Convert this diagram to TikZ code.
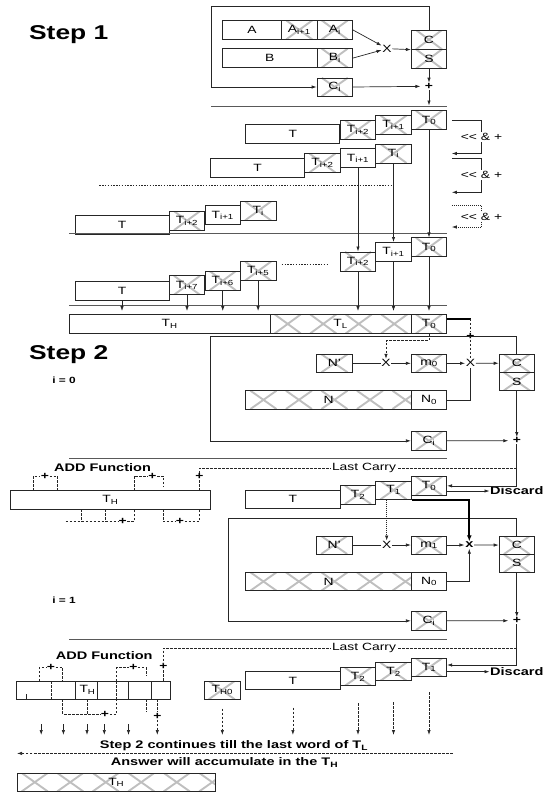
\documentclass[tikz,border=0pt]{standalone}
\usepackage{fontspec}
\setmainfont{Liberation Sans}[FakeStretch=1.32]
\usetikzlibrary{arrows.meta}

\newcommand\celltxt{\fontsize{10.5}{12}\selectfont}
\newcommand\boldtxt{\fontsize{11}{13}\selectfont\bfseries}

\tikzset{
  cell/.style={draw=black!85, line width=0.7pt, inner sep=0pt, minimum width=35.5, minimum height=19, font=\celltxt},
  hatchln/.style={black!25, line width=1.9pt},
  hatch/.style={path picture={
    \foreach \k in {0,...,6}{
      \draw[hatchln] ([xshift={\k*35.5pt+4.75pt}]path picture bounding box.south west) -- ([xshift={\k*35.5pt+30.75pt}]path picture bounding box.north west);
      \draw[hatchln] ([xshift={\k*35.5pt+4.75pt}]path picture bounding box.north west) -- ([xshift={\k*35.5pt+30.75pt}]path picture bounding box.south west);
    }}},
  link/.style={black!85, line width=0.7pt},
  arr/.style={link, -{Latex[length=5pt,width=3.4pt]}},
  carry/.style={link, dash pattern=on 2.5pt off 1.5pt},
  carryarr/.style={carry, -{Latex[length=5pt,width=3.4pt]}},
  dotline/.style={black!85, line width=1pt, dash pattern=on 1.4pt off 1.4pt},
  dotarr/.style={link, dash pattern=on 1pt off 1pt, -{Latex[length=5pt,width=3.4pt]}},
  heavy/.style={black, line width=2.2pt},
  separator/.style={black!65, line width=0.9pt},
  op/.style={inner sep=0.6pt, font=\celltxt},
  plus/.style={inner sep=0.3pt, font=\celltxt\bfseries},
  boldlbl/.style={inner sep=0.5pt, font=\boldtxt},
  steplbl/.style={inner sep=0pt, font=\fontsize{20}{22}\selectfont\bfseries},
  idx/.style={inner sep=0pt, font=\fontsize{9}{10}\selectfont\bfseries},
  shiftlbl/.style={fill=white, inner sep=1pt, font=\celltxt},
  carrylbl/.style={fill=white, inner sep=1pt, font=\celltxt}
}

\begin{document}
\begin{tikzpicture}[x=1pt, y=-1pt]
\useasboundingbox (0,0) rectangle (552,796);

% step 1
\node[steplbl] (step1) at (68.75,35) {Step 1};
\node[cell, minimum width=59] (a) at (252,29.9) {A};
\node[cell, hatch] (a1) at (299.25,29.9) {A\textsubscript{i+1}};
\node[cell, hatch] (a0) at (334.75,29.9) {A\textsubscript{i}};
\node[cell, minimum width=94.5] (b) at (269.75,58.1) {B};
\node[cell, hatch] (b0) at (334.75,58.1) {B\textsubscript{i}};
\node[op] (mul) at (387,48.6) {X};
\node[cell, hatch, minimum height=19.3] (cc) at (429,39.65) {C};
\node[cell, hatch, minimum height=19.3] (ss) at (429,58.95) {S};
\node[cell, hatch, minimum height=18.3] (ci) at (334.75,87) {C\textsubscript{i}};
\node[plus] (add) at (429,86.3) {+};
\coordinate (loop1) at (211,6);
\coordinate (s1) at (429,105.5);
\draw[arr] (a0.east) -- (mul);
\draw[arr] (b0.east) -- (mul);
\draw[arr] (mul) -- (cc.south west);
\draw[arr] (cc.north) |- (loop1) |- (ci.west);
\draw[arr, shorten >=4pt] (ci.east) -- (add);
\draw[arr] (ss.south) -- (add);
\draw[arr] (add) -- (s1);
\draw[separator] (211,106.3) -- (446.5,106.3);

% shifted rows
\node[cell, minimum width=94] (r1t) at (292.8,134.3) {T};
\node[cell, hatch] (r1a) at (358,129.7) {T\textsubscript{i+2}};
\node[cell, hatch] (r1b) at (393.5,125) {T\textsubscript{i+1}};
\node[cell, hatch] (r1c) at (429,120.3) {T\textsubscript{0}};
\node[cell, minimum width=94] (r2t) at (257.6,168) {T};
\node[cell, hatch] (r2a) at (322.4,163) {T\textsubscript{i+2}};
\node[cell] (r2b) at (358,158.3) {T\textsubscript{i+1}};
\node[cell, hatch] (r2c) at (393.5,153.5) {T\textsubscript{i}};
\draw[dotline] (99.3,185.2) -- (393.5,185.2);
\node[cell, minimum width=94] (r3t) at (122,225.2) {T};
\node[cell, hatch] (r3a) at (187,220.65) {T\textsubscript{i+2}};
\node[cell] (r3b) at (222.75,215.3) {T\textsubscript{i+1}};
\node[cell, hatch] (r3c) at (258.1,210.9) {T\textsubscript{i}};

\foreach \i/\ya/\yb/\yl/\st in {1/120/153.5/137/arr, 2/158/192.3/175/arr, 3/205.6/227/216.5/dotarr}{
  \coordinate (br\i a) at (451.8,\ya);
  \coordinate (br\i b) at (451.8,\yb);
  \draw[\st] (br\i a) -| (481.7,\yb) -- (br\i b);
  \node[shiftlbl] (sh\i) at (481.5,\yl) {<{}< \& +};
}
\draw[separator] (69.4,233) -- (446.5,233);

\node[cell, hatch] (r4a) at (358,261.35) {T\textsubscript{i+2}};
\node[cell] (r4b) at (393.5,251.85) {T\textsubscript{i+1}};
\node[cell, hatch] (r4c) at (429,247.3) {T\textsubscript{0}};
\draw[arr] (r2b.south) -- (r4a.north);
\draw[arr] (r2c.south) -- (r4b.north);
\draw[arr] (r1c.south) -- (r4c.north);
\draw[dotline] (281.7,264.7) -- (327.5,264.7);
\node[cell, minimum width=94] (r5t) at (122,290.45) {T};
\node[cell, hatch] (r5a) at (187,285.3) {T\textsubscript{i+7}};
\node[cell, hatch] (r5b) at (222.75,280.7) {T\textsubscript{i+6}};
\node[cell, hatch] (r5c) at (258.1,271.05) {T\textsubscript{i+5}};
\draw[separator] (69.4,305.2) -- (446.5,305.2);

\node[cell, minimum width=200.6] (th) at (169.7,323.9) {T\textsubscript{H}};
\node[cell, hatch, minimum width=141.3] (tl) at (340.65,323.9) {T\textsubscript{L}};
\node[cell, hatch] (tz) at (429,323.9) {T\textsubscript{0}};
\foreach \n in {r5t,r5a,r5b,r5c,r4a,r4b,r4c}
  \draw[arr, shorten >=3pt] (\n.south) -- (\n.south |- th.north);

% step 2, i = 0
\node[steplbl] (step2) at (68.75,355) {Step 2};
\node[idx] (it0) at (64,380) {i = 0};
\node[plus] (pl0) at (470.5,336) {+};
\coordinate (k0) at (470.5,318.9);
\coordinate (lp0) at (210.7,336);
\coordinate (d0) at (386,340.7);
\node[cell, hatch, minimum height=18] (np0) at (334.5,363.3) {N'};
\node[op] (x01) at (386,363.3) {X};
\node[cell, hatch, minimum height=18] (m0) at (429,363.3) {m\textsubscript{0}};
\node[op] (x02) at (470.5,363.3) {X};
\node[cell, hatch, minimum height=18.2] (cc2) at (516.8,363.2) {C};
\node[cell, hatch, minimum height=18.2] (ss2) at (516.8,381.4) {S};
\node[cell, hatch, minimum width=166, minimum height=18.3] (n0) at (328.7,399.85) {N};
\node[cell, minimum height=18.3] (nz0) at (429,399.85) {N\textsubscript{0}};
\node[cell, hatch, minimum height=18.3] (ci2) at (429,440.85) {C\textsubscript{i}};
\node[plus] (pl1) at (516.8,440.7) {+};
\draw[heavy] ([yshift=5pt]tz.east) -- (k0);
\draw[carry] (k0) -- (pl0);
\draw[carry] (pl0) -- (x02);
\draw[arr] (cc2.north) |- (lp0) |- (ci2.west);
\draw[carryarr] (tz.south) |- (d0) -- (x01);
\draw[link] (np0) -- (x01);
\draw[arr] (x01) -- (m0);
\draw[arr] (m0) -- (x02);
\draw[arr] (x02) -- (cc2);
\draw[link] (nz0.east) -| (x02);
\draw[arr] (ss2.south) -- (pl1);
\draw[arr, shorten >=4pt] (ci2) -- (pl1);
\draw[separator] (69.4,458.3) -- (446.7,458.3);

\node[cell, minimum width=94.2, minimum height=18.3] (t1t) at (292.9,499.15) {T};
\node[cell, hatch, minimum height=18.3] (t12) at (358,494.85) {T\textsubscript{2}};
\node[cell, hatch, minimum height=18.3] (t11) at (393.5,490.15) {T\textsubscript{1}};
\node[cell, hatch, minimum height=18.3] (t10) at (429,485.85) {T\textsubscript{0}};
\node[boldlbl, anchor=west] (disc1) at (489.5,491) {Discard};
\draw[arr] (pl1) |- (t10.east);
\draw[arr] (t10.east |- disc1) -- (disc1);

% add function, first pass
\node[boldlbl] (addf1) at (102.5,467.8) {ADD Function};
\node[cell, minimum width=200.7, minimum height=18.3] (reg1) at (110.35,499.85) {T\textsubscript{H}};
\coordinate (lc0) at (516.8,468.3);
\node[plus] (ap1) at (199.3,476.7) {+};
\draw[carry] (lc0) -| (ap1);
\draw[carry] (ap1) -- (ap1 |- reg1.north);
\node[carrylbl] (lcl0) at (364,468.3) {Last Carry};
\node[plus] (p11) at (45,476) {+};
\node[plus] (p12) at (152.5,476) {+};
\node[plus] (p13) at (122.7,521.7) {+};
\node[plus] (p14) at (180,521.7) {+};
\draw[carry] (33.3,490.7) |- (p11) -| (57.3,490.7);
\draw[carry] (134,490.7) |- (p12) -| (163.3,486);
\draw[carry] (65.7,521.7) -- (p13) -| (134,509);
\draw[carry] (81,509) -- (81,521.7);
\draw[carry] (105,509) -- (105,521.7);
\draw[carry] (163.3,509) |- (p14) -| (199.3,509);

% step 2, i = 1
\node[idx] (it1) at (64,600) {i = 1};
\coordinate (lp1) at (228.3,518);
\node[cell, hatch, minimum height=18] (np1) at (334.2,545) {N'};
\node[op] (x11) at (386.7,545) {X};
\node[cell, hatch, minimum height=18] (m1) at (429,545) {m\textsubscript{1}};
\node[op, font=\boldtxt] (x12) at (469.3,545) {x};
\node[cell, hatch, minimum height=18.2] (cc3) at (516.8,545.1) {C};
\node[cell, hatch, minimum height=18.2] (ss3) at (516.8,563.3) {S};
\node[cell, hatch, minimum width=166, minimum height=18.3] (n1) at (328.7,581.5) {N};
\node[cell, minimum height=18.3] (nz1) at (429,581.5) {N\textsubscript{0}};
\node[cell, hatch, minimum height=18.3] (ci3) at (429,620.85) {C\textsubscript{i}};
\node[plus] (pl2) at (516.8,620.7) {+};
\draw[arr] (cc3.north) |- (lp1) |- (ci3.west);
\draw[heavy, -{Latex[length=6pt,width=5pt]}] (t11.south east) -| (x12);
\draw[dotarr] (t11.south -| x11) -- (x11);
\draw[link] (np1) -- (x11);
\draw[arr] (x11) -- (m1);
\draw[arr] (m1) -- (x12);
\draw[arr] (x12) -- (cc3);
\draw[arr] (nz1.east) -| (x12);
\draw[arr] (ss3.south) -- (pl2);
\draw[arr, shorten >=4pt] (ci3) -- (pl2);
\draw[separator] (69.4,639.5) -- (446.7,639.5);

\node[cell, minimum width=94.2, minimum height=17.6] (ut) at (292.9,680.5) {T};
\node[cell, hatch, minimum height=18] (u3) at (358,676.7) {T\textsubscript{2}};
\node[cell, hatch, minimum height=18] (u2) at (393.5,671.7) {T\textsubscript{2}};
\node[cell, hatch, minimum height=18.3] (u1) at (429,667.5) {T\textsubscript{1}};
\node[boldlbl, anchor=west] (disc2) at (489.5,671.7) {Discard};
\draw[arr] (pl2) |- ([yshift=2.5pt]u1.east);
\draw[arr] (u1.east |- disc2) -- (disc2);
\node[cell, hatch, minimum width=36.7, minimum height=18.3] (th0) at (222.35,690.15) {T\textsubscript{H0}};

% add function, second pass
\node[boldlbl] (addf2) at (104.2,655.8) {ADD Function};
\node[cell, minimum width=154, minimum height=18.3] (reg2) at (93,690.15) {};
\node[inner sep=0pt, font=\celltxt] (reg2l) at (87.5,690.15) {T\textsubscript{H}};
\foreach \xd in {75,97,128.3,151.7}
  \draw[link] (\xd,681) -- (\xd,699.3);
\foreach \xd in {51.7,116.7}
  \draw[carry] (\xd,681) -- (\xd,699.3);
\draw[link] (26.7,694) -- (26.7,699.3);
\coordinate (lc1) at (516.8,648);
\node[plus] (ap2) at (163.3,666.5) {+};
\draw[carry] (lc1) -| (ap2);
\draw[carry] (ap2) -- (ap2 |- reg2.north);
\node[carrylbl] (lcl1) at (364,648) {Last Carry};
\node[plus] (p21) at (51,667.5) {+};
\node[plus] (p22) at (133.3,667.5) {+};
\node[plus] (p23) at (105,714) {+};
\node[plus] (p24) at (157.3,716) {+};
\draw[carry] (39.3,681) |- (p21) -| (62.7,681);
\draw[carry] (116.7,681) |- (p22) -| (146,676);
\draw[carry] (62.7,699.3) |- (p23) -| (116.7,699.3);
\draw[carry] (87.3,699.3) -- (87.3,714);
\draw[carry] (146,699.3) -- (146,711.7);
\coordinate (ylow) at (0,735);
\draw[carry] (157.3,699.3) -- (p24);
\draw[carryarr] (p24) -- (p24 |- ylow);
\foreach \xa in {41.2,63.4,87,104.3,128.5}
  \draw[arr] (\xa,724) -- (\xa,735);
\foreach \n/\sh in {th0/9,ut/18,u3/17,u2/21,u1/15}
  \draw[carryarr, shorten <=\sh pt] (\n.south) -- (\n.south |- ylow);

% result
\node[boldlbl] (cont) at (234,745.6) {Step 2 continues till the last word of T\textsubscript{L}};
\coordinate (ce) at (452.5,753.4);
\coordinate (cw) at (17,753.4);
\draw[carryarr] (ce) -- (cw);
\node[boldlbl] (ans) at (224.5,762.5) {Answer will accumulate in the T\textsubscript{H}};
\node[cell, hatch, minimum width=198.5, minimum height=18.4] (thf) at (116.25,782.2) {T\textsubscript{H}};
\end{tikzpicture}
\end{document}
